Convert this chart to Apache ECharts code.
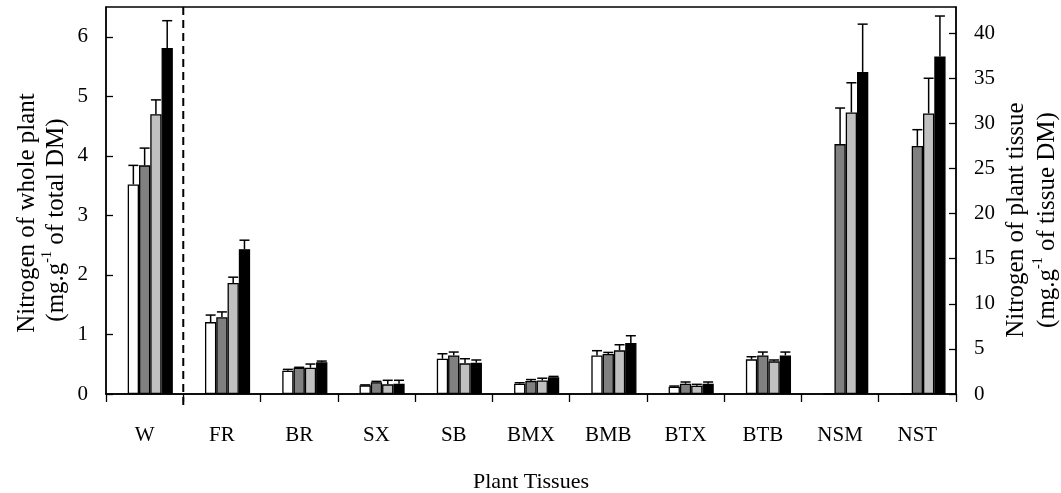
<!DOCTYPE html>
<html>
<head>
<meta charset="utf-8">
<script src="https://cdn.jsdelivr.net/npm/echarts@6/dist/echarts.min.js"></script>
<style>
html,body{margin:0;padding:0;background:#fff;}
#chart{width:1061px;height:493px;}
</style>
</head>
<body>
<div id="chart"></div>
<script>
// ---- data ----
const categories = ['W','FR','BR','SX','SB','BMX','BMB','BTX','BTB','NSM','NST'];
// whole plant (left axis, category W), treatments 1-4
const wholeMean = [3.52, 3.84, 4.70, 5.81];
const wholeSE   = [0.32, 0.29, 0.24, 0.46];
// plant tissues (right axis), FR..NST
const tissueT1 = [7.97, 2.58, 0.96, 3.91, 1.15, 4.28, 0.81, 3.84, 0, 0];
const tissueT2 = [8.50, 2.91, 1.30, 4.28, 1.45, 4.43, 1.14, 4.28, 27.7, 27.5];
const tissueT3 = [12.3, 2.91, 1.07, 3.40, 1.50, 4.84, 0.92, 3.62, 31.2, 31.1];
const tissueT4 = [16.05, 3.51, 1.14, 3.47, 1.85, 5.65, 1.14, 4.28, 35.7, 37.4];
const tissueSE1 = [0.78, 0.15, 0.05, 0.55, 0.10, 0.52, 0.07, 0.29, 0, 0];
const tissueSE2 = [0.60, 0.05, 0.10, 0.37, 0.15, 0.18, 0.19, 0.37, 4.0, 1.8];
const tissueSE3 = [0.65, 0.41, 0.45, 0.51, 0.25, 0.62, 0.15, 0.15, 3.3, 3.9];
const tissueSE4 = [1.00, 0.14, 0.38, 0.30, 0.10, 0.81, 0.19, 0.37, 5.3, 4.5];
const fills = ['#ffffff', '#808080', '#c0c0c0', '#000000'];

const tissueMeans = [tissueT1, tissueT2, tissueT3, tissueT4];
const tissueSEs = [tissueSE1, tissueSE2, tissueSE3, tissueSE4];

const FONT = '"Liberation Serif", "Times New Roman", serif';
const CAT_GAP = 0.27;
const SLOTS = 5;

const chart = echarts.init(document.getElementById('chart'));

function barSeries(xi, yi, data, color, first) {
  const s = {
    type: 'bar', xAxisIndex: xi, yAxisIndex: yi, data: data,
    itemStyle: { color: color, borderColor: '#000', borderWidth: 1.3 },
    silent: true, animation: false
  };
  if (first) { s.barGap = '0%'; s.barCategoryGap = (CAT_GAP * 100) + '%'; }
  return s;
}

const series = [];
// left axis (whole plant)
series.push(barSeries(0, 0, categories.map(() => '-'), 'transparent', true));
for (let t = 0; t < 4; t++) {
  series.push(barSeries(0, 0, categories.map((c, i) => i === 0 ? wholeMean[t] : '-'), fills[t], false));
}
// right axis (tissues)
series.push(barSeries(1, 1, categories.map(() => '-'), 'transparent', true));
for (let t = 0; t < 4; t++) {
  series.push(barSeries(1, 1, ['-'].concat(tissueMeans[t]), fills[t], false));
}

function errRender(params, api) {
  const cat = api.value(0), val = api.value(1), se = api.value(2), slot = api.value(3);
  if (!se) return null;
  const base = api.coord([cat, val]);
  const top = api.coord([cat, val + se]);
  const band = api.size([1, 0])[0];
  const groupW = band * (1 - CAT_GAP);
  const w = groupW / SLOTS;
  const x = base[0] - groupW / 2 + w * (slot + 0.5);
  const cap = 5;
  const st = { stroke: '#000', lineWidth: 1.5 };
  return {
    type: 'group',
    children: [
      { type: 'line', shape: { x1: x, y1: base[1], x2: x, y2: top[1] }, style: st },
      { type: 'line', shape: { x1: x - cap, y1: top[1], x2: x + cap, y2: top[1] }, style: st }
    ]
  };
}

const errLeft = [];
for (let t = 0; t < 4; t++) errLeft.push([0, wholeMean[t], wholeSE[t], t + 1]);
const errRight = [];
for (let t = 0; t < 4; t++) {
  for (let i = 0; i < tissueMeans[t].length; i++) {
    errRight.push([i + 1, tissueMeans[t][i], tissueSEs[t][i], t + 1]);
  }
}
series.push({ type: 'custom', xAxisIndex: 0, yAxisIndex: 0, renderItem: errRender, data: errLeft, z: 5, silent: true, animation: false });
series.push({ type: 'custom', xAxisIndex: 1, yAxisIndex: 1, renderItem: errRender, data: errRight, z: 5, silent: true, animation: false });

const labelStyle = { color: '#000', fontFamily: FONT, fontSize: 21 };

const option = {
  animation: false,
  backgroundColor: '#fff',
  grid: { left: 106, right: 105, top: 7, bottom: 99, show: true, borderColor: '#000', borderWidth: 1.3,
          containLabel: false, outerBoundsMode: 'none' },
  xAxis: [
    {
      type: 'category', data: categories, position: 'bottom',
      axisLine: { show: true, lineStyle: { color: '#000', width: 1.5 } },
      axisTick: { show: true, inside: false, length: 8, alignWithLabel: false, lineStyle: { color: '#000', width: 1.3 } },
      axisLabel: Object.assign({ margin: 31 }, labelStyle),
      name: 'Plant Tissues', nameLocation: 'middle', nameGap: 77,
      nameTextStyle: { color: '#000', fontFamily: FONT, fontSize: 22 },
      splitLine: { show: false }
    },
    { type: 'category', data: categories, position: 'top', show: false }
  ],
  yAxis: [
    {
      type: 'value', min: 0, max: 6.5, interval: 1, position: 'left',
      axisLine: { show: true, lineStyle: { color: '#000', width: 1.5 } },
      axisTick: { show: true, inside: true, length: 7, lineStyle: { color: '#000', width: 1.3 } },
      axisLabel: Object.assign({ margin: 18, showMaxLabel: false,
        formatter: v => (Math.abs(v - Math.round(v)) < 1e-9 ? String(v) : '') }, labelStyle),
      splitLine: { show: false }
    },
    {
      type: 'value', min: 0, max: 42.9, interval: 5, position: 'right',
      axisLine: { show: true, lineStyle: { color: '#000', width: 1.5 } },
      axisTick: { show: true, inside: true, length: 7, lineStyle: { color: '#000', width: 1.3 } },
      axisLabel: Object.assign({ margin: 18, showMaxLabel: false,
        formatter: v => (Math.abs(v / 5 - Math.round(v / 5)) < 1e-9 ? String(v) : '') }, labelStyle),
      splitLine: { show: false }
    }
  ],
  series: series
};
chart.setOption(option);

// divider between W and the tissue categories, plus axis titles
const xW = chart.convertToPixel({ xAxisIndex: 0 }, categories[0]);
const xFR = chart.convertToPixel({ xAxisIndex: 0 }, categories[1]);
const divX = (xW + xFR) / 2;
const yTop = chart.convertToPixel({ yAxisIndex: 0 }, 6.5);
const yBase = chart.convertToPixel({ yAxisIndex: 0 }, 0);

const rich = {
  a: { fontSize: 25, fontFamily: FONT, color: '#000', lineHeight: 32 },
  sup: { fontSize: 14, fontFamily: FONT, color: '#000', lineHeight: 15, verticalAlign: 'top' }
};
function title(x, y, txt) {
  return { type: 'text', x: x, y: y, rotation: Math.PI / 2, silent: true,
    style: { text: txt, rich: rich, align: 'center', verticalAlign: 'middle', fill: '#000', font: '25px ' + FONT } };
}

chart.setOption({
  graphic: [
    { type: 'line', silent: true, z: 10,
      shape: { x1: divX, y1: yTop, x2: divX, y2: yBase + 12 },
      style: { stroke: '#000', lineWidth: 2, lineDash: [8, 5] } },
    title(27, 213, '{a|Nitrogen of whole plant}'),
    title(56, 220, '{a|(mg.g}{sup|-1}{a| of total DM)}'),
    title(1016, 220, '{a|Nitrogen of plant tissue}'),
    title(1047, 220, '{a|(mg.g}{sup|-1}{a| of tissue DM)}')
  ]
});
</script>
</body>
</html>
